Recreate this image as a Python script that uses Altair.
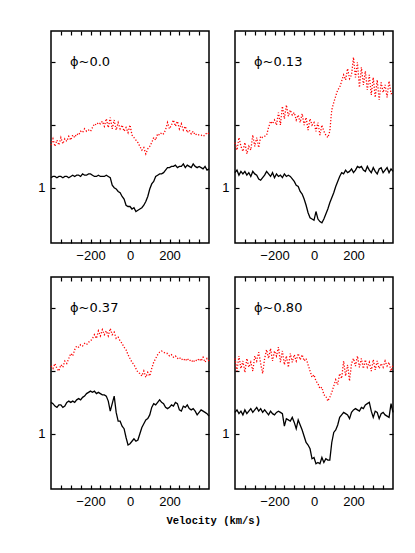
import altair as alt
import pandas as pd

# Velocity grid (km/s)
VELOCITY = list(range(-400, 401, 10))

PHASES = ["\u03d5~0.0", "\u03d5~0.13", "\u03d5~0.37", "\u03d5~0.80"]

BLACK_00 = [1.08, 1.09, 1.09, 1.08, 1.09, 1.09, 1.08, 1.09, 1.09, 1.08,
            1.09, 1.10, 1.09, 1.10, 1.10, 1.09, 1.11, 1.10, 1.10, 1.11,
            1.11, 1.10, 1.09, 1.09, 1.10, 1.09, 1.09, 1.09, 1.10, 1.09,
            1.08, 1.02, 1.00, 0.99, 0.97, 0.96, 0.93, 0.91, 0.86, 0.85,
            0.85, 0.83, 0.84, 0.81, 0.82, 0.83, 0.84, 0.86, 0.89, 0.93,
            0.99, 1.03, 1.05, 1.09, 1.10, 1.11, 1.11, 1.12, 1.14, 1.16,
            1.16, 1.17, 1.17, 1.18, 1.16, 1.17, 1.17, 1.19, 1.16, 1.18,
            1.17, 1.16, 1.19, 1.17, 1.16, 1.17, 1.16, 1.15, 1.17, 1.14,
            1.15]
RED_00 = [1.34, 1.39, 1.33, 1.38, 1.34, 1.40, 1.35, 1.39, 1.37, 1.41,
          1.38, 1.42, 1.40, 1.43, 1.42, 1.45, 1.44, 1.47, 1.45, 1.46,
          1.45, 1.48, 1.51, 1.50, 1.52, 1.51, 1.53, 1.49, 1.55, 1.48,
          1.56, 1.47, 1.54, 1.46, 1.52, 1.47, 1.50, 1.45, 1.48, 1.44,
          1.50, 1.42, 1.40, 1.38, 1.36, 1.33, 1.30, 1.32, 1.27, 1.31,
          1.33, 1.36, 1.40, 1.38, 1.43, 1.42, 1.44, 1.43, 1.46, 1.52,
          1.47, 1.50, 1.54, 1.49, 1.53, 1.47, 1.51, 1.46, 1.49, 1.44,
          1.46, 1.43, 1.45, 1.42, 1.43, 1.42, 1.42, 1.41, 1.42, 1.44,
          1.43]

BLACK_13 = [1.12, 1.14, 1.10, 1.13, 1.11, 1.13, 1.10, 1.12, 1.09, 1.13,
            1.11, 1.10, 1.07, 1.06, 1.08, 1.10, 1.13, 1.11, 1.09, 1.12,
            1.08, 1.11, 1.09, 1.10, 1.08, 1.11, 1.09, 1.10, 1.09, 1.07,
            1.05, 1.02, 1.01, 0.97, 0.95, 0.91, 0.86, 0.80, 0.76, 0.75,
            0.74, 0.81, 0.75, 0.73, 0.72, 0.75, 0.79, 0.83, 0.88, 0.92,
            0.96, 1.01, 1.05, 1.09, 1.12, 1.11, 1.14, 1.12, 1.13, 1.15,
            1.12, 1.14, 1.17, 1.16, 1.17, 1.14, 1.13, 1.17, 1.14, 1.12,
            1.16, 1.13, 1.11, 1.15, 1.16, 1.12, 1.14, 1.16, 1.12, 1.15,
            1.13]
RED_13 = [1.36, 1.30, 1.40, 1.33, 1.29, 1.36, 1.27, 1.33, 1.30, 1.42,
          1.33, 1.40, 1.32, 1.41, 1.40, 1.41, 1.42, 1.48, 1.53, 1.51,
          1.54, 1.50, 1.60, 1.50, 1.65, 1.55, 1.66, 1.57, 1.62, 1.58,
          1.60, 1.54, 1.58, 1.52, 1.59, 1.50, 1.56, 1.46, 1.55, 1.50,
          1.52, 1.45, 1.52, 1.42, 1.50, 1.45, 1.42, 1.40, 1.45, 1.62,
          1.68, 1.73, 1.78, 1.80, 1.85, 1.90, 1.86, 1.95, 1.87, 1.90,
          2.04, 1.88, 2.00, 1.80, 1.96, 1.82, 1.93, 1.78, 1.90, 1.74,
          1.88, 1.72, 1.86, 1.70, 1.84, 1.76, 1.82, 1.72, 1.85, 1.75,
          1.75]

BLACK_37 = [1.25, 1.24, 1.22, 1.21, 1.23, 1.23, 1.21, 1.22, 1.25, 1.26,
            1.25, 1.26, 1.25, 1.27, 1.28, 1.27, 1.29, 1.30, 1.32, 1.33,
            1.34, 1.33, 1.34, 1.32, 1.33, 1.32, 1.31, 1.31, 1.30, 1.26,
            1.18, 1.24, 1.30, 1.17, 1.10, 1.10, 1.06, 1.04, 0.97, 0.91,
            0.92, 0.94, 0.96, 0.94, 0.95, 1.00, 1.05, 1.08, 1.11, 1.12,
            1.15, 1.21, 1.24, 1.23, 1.25, 1.27, 1.25, 1.24, 1.21, 1.20,
            1.21, 1.23, 1.22, 1.25, 1.24, 1.19, 1.18, 1.22, 1.21, 1.23,
            1.20, 1.19, 1.20, 1.18, 1.15, 1.17, 1.19, 1.18, 1.17, 1.16,
            1.14]
RED_37 = [1.54, 1.52, 1.56, 1.52, 1.50, 1.55, 1.53, 1.58, 1.56, 1.60,
          1.64, 1.62, 1.67, 1.70, 1.69, 1.71, 1.70, 1.72, 1.71, 1.73,
          1.74, 1.76, 1.79, 1.76, 1.82, 1.78, 1.83, 1.79, 1.82, 1.78,
          1.84, 1.79, 1.81, 1.76, 1.77, 1.74, 1.72, 1.69, 1.67, 1.63,
          1.60, 1.57, 1.55, 1.52, 1.49, 1.48, 1.46, 1.50, 1.45, 1.49,
          1.46, 1.52, 1.57, 1.60, 1.63, 1.65, 1.66, 1.65, 1.64, 1.64,
          1.62, 1.63, 1.61, 1.62, 1.60, 1.61, 1.59, 1.60, 1.58, 1.60,
          1.58, 1.59, 1.57, 1.59, 1.58, 1.60, 1.58, 1.61, 1.57, 1.60,
          1.58]

BLACK_80 = [1.17, 1.19, 1.16, 1.18, 1.15, 1.19, 1.16, 1.18, 1.20, 1.17,
            1.19, 1.21, 1.18, 1.20, 1.17, 1.19, 1.17, 1.15, 1.18, 1.16,
            1.15, 1.17, 1.18, 1.17, 1.16, 1.06, 1.12, 1.11, 1.10, 1.13,
            1.09, 1.04, 1.11, 1.07, 1.03, 0.98, 0.93, 0.91, 0.88, 0.80,
            0.81, 0.76, 0.77, 0.76, 0.81, 0.77, 0.80, 0.79, 0.79, 0.93,
            1.01, 1.03, 1.07, 1.13, 1.15, 1.17, 1.16, 1.15, 1.12, 1.17,
            1.19, 1.20, 1.19, 1.18, 1.21, 1.20, 1.23, 1.24, 1.25, 1.18,
            1.13, 1.18, 1.17, 1.12, 1.16, 1.17, 1.15, 1.14, 1.13, 1.24,
            1.17]
RED_80 = [1.60, 1.50, 1.62, 1.52, 1.58, 1.49, 1.60, 1.53, 1.57, 1.50,
          1.62, 1.58, 1.65, 1.56, 1.48, 1.60, 1.67, 1.60, 1.68, 1.58,
          1.66, 1.62, 1.69, 1.57, 1.66, 1.55, 1.62, 1.53, 1.64, 1.57,
          1.63, 1.58, 1.64, 1.59, 1.63, 1.58, 1.60, 1.55, 1.50, 1.45,
          1.47, 1.42, 1.40, 1.36, 1.37, 1.31, 1.30, 1.26, 1.29, 1.33,
          1.38, 1.43, 1.39, 1.48, 1.44, 1.58, 1.46, 1.55, 1.42, 1.56,
          1.60, 1.54, 1.62, 1.53, 1.60, 1.52, 1.59, 1.53, 1.57, 1.50,
          1.59, 1.51, 1.58, 1.52, 1.56, 1.53, 1.58, 1.54, 1.57, 1.50,
          1.55]

X_TICKS = [-350, -300, -250, -200, -150, -100, -50, 0, 50, 100, 150, 200, 250, 300, 350]
Y_TICKS = [1.0, 1.5, 2.0]
X_DOMAIN = [-400, 400]
Y_DOMAIN = [0.559, 2.25]

W, H = 158, 212
TICK = 4
LABEL_FONT = "Liberation Sans"


def panel(black, red, label):
    df = pd.DataFrame({"v": VELOCITY, "black": black, "red": red})
    xs = alt.Scale(domain=X_DOMAIN, nice=False, zero=False)
    ys = alt.Scale(domain=Y_DOMAIN, nice=False, zero=False)
    common = dict(domain=False, grid=False, tickColor="black", tickSize=TICK,
                  tickWidth=1.2, offset=-TICK, title=None, labelOverlap=False,
                  labelFlush=False, labelFont=LABEL_FONT, labelFontSize=13,
                  labelColor="black")
    blk = alt.Chart(df).mark_line(color="black", strokeWidth=1.3).encode(
        x=alt.X("v:Q", scale=xs, axis=alt.Axis(
            orient="bottom", values=X_TICKS, labelPadding=6,
            labelExpr="datum.value % 200 == 0 ? datum.label : ''", **common)),
        y=alt.Y("black:Q", scale=ys, axis=alt.Axis(
            orient="left", values=Y_TICKS, labelPadding=6,
            labelExpr="datum.value == 1 ? '1' : ''", **common)),
    )
    rd = alt.Chart(df).mark_line(color="#ff0000", strokeWidth=1.3,
                                 strokeDash=[1.2, 1.8]).encode(
        x=alt.X("v:Q", scale=xs, axis=alt.Axis(
            orient="top", values=X_TICKS, labels=False, **common)),
        y=alt.Y("red:Q", scale=ys, axis=alt.Axis(
            orient="right", values=Y_TICKS, labels=False, **common)),
    )
    txt = alt.Chart(pd.DataFrame({"t": [label]})).mark_text(
        align="left", baseline="middle", font="DejaVu Sans", fontSize=13,
        color="black").encode(text="t:N", x=alt.value(19), y=alt.value(31))
    return alt.layer(blk, rd, txt).resolve_axis(
        x="independent", y="independent").properties(width=W, height=H)


row1 = alt.hconcat(panel(BLACK_00, RED_00, PHASES[0]),
                   panel(BLACK_13, RED_13, PHASES[1]), spacing=8)
row2 = alt.hconcat(panel(BLACK_37, RED_37, PHASES[2]),
                   panel(BLACK_80, RED_80, PHASES[3]), spacing=8)

chart = alt.vconcat(row1, row2, spacing=12).properties(
    title=alt.TitleParams("Velocity (km/s)", orient="bottom", anchor="middle",
                          font="Liberation Mono", fontSize=10.5,
                          fontWeight="bold", color="black", offset=7, dx=-3),
    padding={"left": 29, "top": 21, "right": 5, "bottom": 5},
).configure(background="white").configure_view(stroke="black", strokeWidth=1.5)

chart.save("out.html", embed_options={"renderer": "svg", "actions": False})
